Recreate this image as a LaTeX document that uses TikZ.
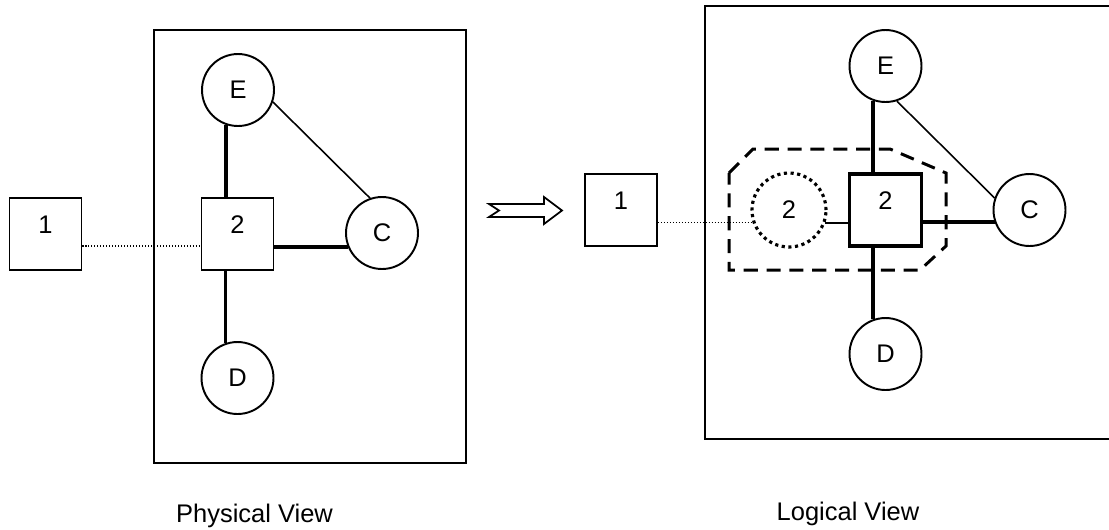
\documentclass[tikz,border=0pt]{standalone}
\usepackage{fontspec}
\setmainfont{Liberation Sans}
\usetikzlibrary{calc}

\begin{document}
\begin{tikzpicture}[x=0.02cm, y=-0.02cm, font=\fontsize{14.5}{17}\selectfont,
  box/.style={draw, line width=1.1pt, minimum size=1.44cm, inner sep=0pt, text depth=0.36cm},
  hub/.style={box, line width=1.9pt},
  site/.style={draw, circle, line width=1.1pt, minimum size=1.44cm, inner sep=0pt},
  ghost/.style={draw, circle, line width=1.8pt, dash pattern=on 1.8pt off 2pt, minimum size=1.48cm, inner sep=0pt},
  frame/.style={draw, line width=1.1pt},
  link/.style={line width=2pt},
  weak/.style={line width=0.9pt},
  tie/.style={line width=0.6pt, dash pattern=on 0.6pt off 1.1pt},
  group/.style={line width=1.7pt, dash pattern=on 8pt off 5pt}]
\useasboundingbox (0,0) rectangle (1109,529);

% physical view
\draw[frame] (154,30) rectangle (466,463);
\node[box] (p1) at (45.5,234) {1};
\node[box] (p2) at (237.5,234) {2};
\node[site] (pe) at (238,90) {E};
\node[site] (pc) at (382,233) {C};
\node[site] (pd) at (237.5,378) {D};
\draw[link] (pe.251) -- (pe.251 |- p2.north);
\draw[link] (pd.109) -- (pd.109 |- p2.south);
\draw[link] (pc.202) -- (pc.202 -| p2.east);
\draw[weak] (pe.-19) -- (pc.109);
\draw[tie] ([yshift=-0.24cm]p1.east) -- ([yshift=-0.24cm]p2.west);
\node[anchor=base] (phys) at (254.5,522) {Physical View};

% transition arrow
\draw[line width=1pt, line join=miter] (489,204) -- (499,210.5) -- (489,217) -- (544,217)
  -- (544,224) -- (562,210.5) -- (544,197) -- (544,204) -- cycle;

% logical view
\draw[frame] (705,6) rectangle (1116,439);
\node[box] (l1) at (621,210) {1};
\node[hub] (l2) at (885.5,210) {2};
\node[ghost] (lg) at (789,210) {2};
\node[site] (le) at (885.5,66) {E};
\node[site] (lc) at (1029.5,210) {C};
\node[site] (ld) at (885.5,354) {D};
\draw[link] (le.250) -- (le.250 |- l2.north);
\draw[link] (ld.110) -- (ld.110 |- l2.south);
\draw[link] (lc.199) -- (lc.199 -| l2.east);
\draw[weak] (le.-72) -- (lc.161);
\draw[line width=1.2pt] (lg.-19) -- (lg.-19 -| l2.west);
\draw[tie] (lg.199 -| l1.east) -- (lg.199);
\draw[group] (729,173) -- (753,149) -- (890,149) -- (946,173) -- (946,246)
  -- (920,270) -- (729,270) -- cycle;
\node[anchor=base] (logi) at (848,520) {Logical View};
\end{tikzpicture}
\end{document}
